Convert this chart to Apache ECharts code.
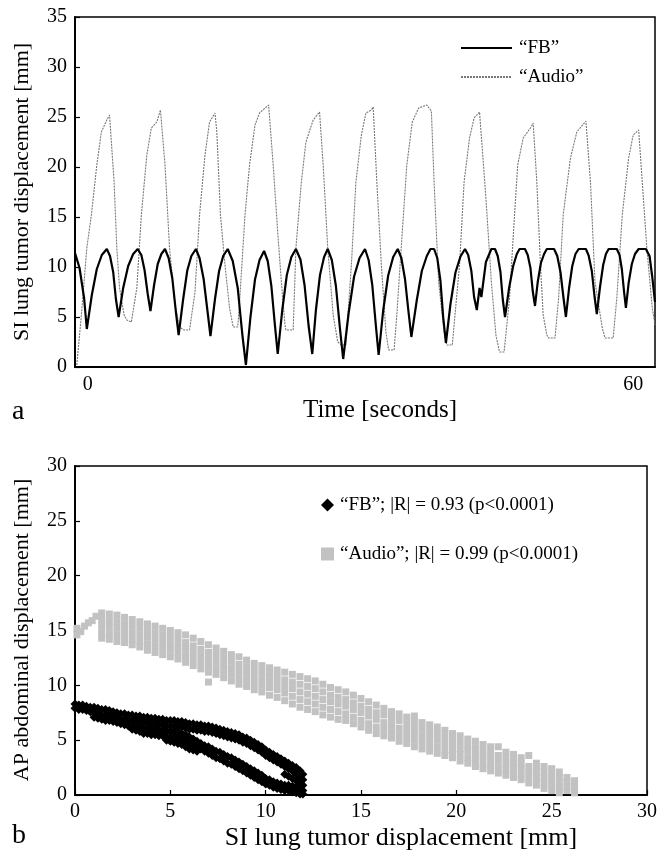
<!DOCTYPE html>
<html><head><meta charset="utf-8">
<script src="https://cdn.jsdelivr.net/npm/echarts@6/dist/echarts.min.js"></script>
<style>html,body{margin:0;padding:0;background:#fff}#c{width:660px;height:850px}</style>
</head><body><div id="c"></div><script>
// ---------- Panel a: time series (time [s], SI displacement [mm]) ----------
const fbSeries = [
 [-1.4,11.4],[-0.9,9.9],[-0.4,6.9],[-0.1,3.8],
 [0.45,7.2],[1.0,9.8],[1.55,11.2],[2.1,11.8],[2.45,11.1],[2.8,9.5],[3.1,6.8],[3.4,5.0],
 [3.9,7.9],[4.45,10.1],[5.0,11.3],[5.5,11.8],[5.9,11.2],[6.25,9.7],[6.6,7.3],[6.9,5.6],
 [7.3,8.2],[7.7,10.3],[8.1,11.3],[8.5,11.8],[8.9,10.9],[9.3,8.9],[9.7,5.5],[10.0,3.2],
 [10.5,6.8],[10.95,9.65],[11.4,11.1],[11.9,11.8],[12.3,10.9],[12.75,8.8],[13.2,5.4],[13.5,3.1],
 [14.0,6.8],[14.45,9.6],[14.9,11.1],[15.4,11.8],[15.95,10.6],[16.5,7.9],[17.0,3.3],[17.4,0.2],
 [17.9,5.0],[18.4,8.75],[18.9,10.7],[19.4,11.6],[19.8,10.6],[20.2,8.1],[20.6,4.1],[20.9,1.3],
 [21.4,5.7],[21.9,9.2],[22.4,11.0],[22.9,11.8],[23.4,10.75],[23.85,8.2],[24.3,4.1],[24.7,1.3],
 [25.1,5.7],[25.55,9.2],[26.0,11.0],[26.4,11.8],[26.85,10.7],[27.3,8.1],[27.75,3.8],[28.1,0.8],
 [28.7,5.4],[29.3,9.05],[29.9,10.9],[30.5,11.8],[30.9,10.7],[31.3,8.2],[31.7,4.1],[32.0,1.2],
 [32.5,5.65],[33.05,9.15],[33.6,11.0],[34.1,11.8],[34.5,10.9],[34.9,8.8],[35.3,5.4],[35.6,3.0],
 [36.2,6.7],[36.75,9.6],[37.3,11.1],[37.7,11.8],[38.1,11.8],[38.45,10.9],[38.8,8.6],[39.1,5.0],[39.4,2.4],
 [39.9,6.3],[40.45,9.45],[41.0,11.05],[41.5,11.8],[41.85,11.2],[42.2,9.6],[42.5,7.0],[42.8,5.7],
 [43.1,7.9],[43.3,7.0],[43.8,10.5],[44.4,11.8],[44.8,11.8],[45.1,11.1],[45.4,9.5],[45.65,6.8],[45.9,5.0],
 [46.35,7.9],[46.8,10.1],[47.2,11.3],[47.5,11.8],[48.1,11.8],[48.4,11.2],[48.7,9.9],[48.95,7.6],[49.2,6.1],
 [49.5,8.5],[49.85,10.4],[50.2,11.3],[50.5,11.8],[51.3,11.8],[51.65,11.1],[52.0,9.5],[52.35,6.8],[52.6,5.0],
 [52.95,7.9],[53.3,10.1],[53.65,11.3],[54.0,11.8],[54.8,11.8],[55.1,11.15],[55.45,9.6],[55.75,7.05],[56.0,5.3],
 [56.35,8.0],[56.7,10.2],[57.0,11.3],[57.3,11.8],[58.2,11.8],[58.5,11.2],[58.75,9.8],[59.0,7.5],[59.2,5.9],
 [59.5,8.4],[59.85,10.3],[60.2,11.3],[60.6,11.8],[61.4,11.8],[61.8,11.1],[62.1,9.0],[62.4,6.5]
];
const audioSeries = [
 [-1.2,0.2],[-0.7,5.2],[-0.1,11.9],[0.4,15.2],[1.0,20.2],[1.5,23.5],[2.1,24.7],[2.4,25.2],
 [2.9,18.5],[3.2,11.9],[3.5,7.9],[4.0,5.2],[4.3,4.7],[4.8,4.5],
 [5.4,7.9],[5.9,15.2],[6.5,21.2],[7.0,23.9],[7.6,24.5],[8.0,25.7],
 [8.5,20.2],[9.0,11.9],[9.6,6.2],[10.1,4.0],[10.6,3.7],[11.2,3.7],
 [11.8,7.5],[12.3,15.2],[12.9,21.2],[13.4,24.5],[14.0,25.4],
 [14.2,23.5],[14.6,15.2],[15.1,10.2],[15.6,5.9],[16.0,4.0],[16.5,4.0],
 [16.7,6.5],[17.3,15.2],[17.8,20.2],[18.4,24.2],[18.9,25.4],[19.9,26.2],
 [20.4,20.2],[20.9,13.5],[21.3,8.5],[21.7,4.2],[21.8,3.7],[22.6,3.7],
 [22.9,11.9],[23.5,18.5],[24.0,22.5],[24.8,24.7],[25.5,25.5],
 [25.9,20.2],[26.4,11.9],[27.0,5.2],[27.5,2.5],[27.9,2.2],[28.4,2.2],
 [29.0,10.2],[29.5,18.5],[30.1,23.2],[30.6,25.4],[31.2,25.7],[31.4,26.0],
 [31.8,18.5],[32.3,10.2],[32.8,3.5],[33.1,1.7],[33.7,1.7],
 [34.0,5.2],[34.6,13.5],[35.1,20.2],[35.7,24.5],[36.4,25.9],[37.3,26.2],[37.8,25.6],
 [38.1,18.5],[38.6,8.5],[39.2,3.5],[39.5,2.2],[40.1,2.2],
 [40.9,10.2],[41.4,18.5],[42.0,22.9],[42.5,24.9],[43.1,25.5],
 [43.8,16.9],[44.4,8.5],[44.9,3.2],[45.3,1.5],[45.8,1.5],
 [46.4,6.9],[46.9,14.5],[47.3,20.2],[47.9,22.9],[48.7,23.9],[49.0,24.4],
 [49.4,18.5],[49.8,10.2],[50.1,5.2],[50.5,3.2],[50.7,2.9],[51.4,2.9],
 [51.8,6.9],[52.3,15.2],[53.1,20.9],[53.8,23.5],[54.8,24.6],
 [55.3,18.5],[55.8,8.5],[56.6,3.9],[56.9,2.9],[57.8,2.9],
 [58.2,6.9],[58.8,15.2],[59.5,20.9],[60.0,23.2],[60.6,23.7],
 [61.0,18.5],[61.5,11.9],[62.1,5.9],[62.4,4.2]
];
const timeTickLabels = [0, 60];

// ---------- Panel b: scatter (SI displacement, AP abdominal displacement) ----------
// columns: [SI value, [AP values read in that column]]
const fbScatterCols = [
 [0.0,[8.3,7.9]],[0.2,[8.2,7.8]],[0.4,[8.2,7.8]],[0.6,[8.1,7.7]],[0.8,[8.0,7.6]],
 [1.0,[8.0,7.5,7.1]],[1.2,[7.9,7.4,7.0]],[1.4,[7.8,7.3,6.9]],[1.6,[7.8,7.3,6.8]],[1.8,[7.7,7.2,6.8]],
 [2.0,[7.6,7.1,6.7]],[2.2,[7.5,7.0,6.6]],[2.4,[7.4,6.9,6.5]],[2.6,[7.4,6.9,6.4]],[2.8,[7.3,6.8,6.3]],
 [3.0,[7.3,6.8,6.3,6.0]],[3.2,[7.2,6.7,6.2,5.9]],[3.4,[7.2,6.7,6.2,5.8]],[3.6,[7.1,6.6,6.1,5.6]],[3.8,[7.1,6.6,6.1,5.6]],
 [4.0,[7.0,6.5,6.0,5.5]],[4.2,[7.0,6.5,6.0,5.5]],[4.4,[6.9,6.4,5.9,5.4]],[4.6,[6.9,6.4,5.9,5.4]],
 [4.8,[6.8,6.3,5.8,5.3,5.0]],[5.0,[6.8,6.3,5.8,5.3,4.9]],[5.2,[6.8,6.3,5.8,5.3,4.8]],[5.4,[6.7,6.2,5.7,5.2,4.7]],
 [5.6,[6.7,6.2,5.6,5.1,4.6]],[5.8,[6.6,6.1,5.5,4.9,4.4]],[6.0,[6.5,6.0,5.3,4.7,4.2]],[6.2,[6.5,6.0,5.1,4.5,4.1]],
 [6.4,[6.4,5.9,4.9,4.4,4.0]],[6.6,[6.4,5.9,4.7,4.2]],[6.8,[6.3,5.8,4.5,4.0]],[7.0,[6.3,5.8,4.4,3.8]],
 [7.2,[6.2,5.7,4.2,3.6]],[7.4,[6.1,5.6,4.0,3.4]],[7.6,[6.0,5.5,3.9,3.3]],[7.8,[5.9,5.4,3.7,3.1]],
 [8.0,[5.8,5.3,3.5,2.9]],[8.2,[5.7,5.2,3.4,2.8]],[8.4,[5.6,5.1,3.2,2.6]],[8.6,[5.5,5.0,3.0,2.4]],
 [8.8,[5.3,4.8,2.8,2.2]],[9.0,[5.2,4.7,2.6,2.0]],[9.2,[5.0,4.5,2.4,1.8]],[9.4,[4.8,4.3,2.2,1.6]],
 [9.6,[4.6,4.1,2.0,1.4]],[9.8,[4.4,3.9,1.8,1.2]],[10.0,[4.1,3.6,1.5,1.0]],[10.2,[3.9,3.4,1.4,0.9]],
 [10.4,[3.7,3.2,1.2,0.7]],[10.6,[3.5,3.0,1.1,0.6]],[10.8,[3.3,2.8,1.0,0.5]],[11.0,[3.1,2.6,1.9,0.9,0.4]],
 [11.2,[2.9,2.4,1.7,0.9,0.4]],[11.4,[2.7,2.2,1.5,0.8,0.3]],[11.6,[2.5,1.9,1.3,0.7,0.2]],
 [11.8,[2.2,1.7,1.1,0.6,0.1]],[11.95,[1.9,1.4,0.9,0.4,0.1]]
];
const audioScatterCols = [
 [0.1,[14.6,15.2]],[0.3,[14.9]],[0.5,[15.4]],[0.7,[15.7]],[0.9,[15.9]],[1.1,[16.3]],
 [1.4,[16.6,16.0,15.4,14.8,14.3]],[1.8,[16.5,15.9,15.3,14.7,14.2]],[2.2,[16.4,15.8,15.2,14.6,14.0]],
 [2.6,[16.2,15.6,15.0,14.4,13.9]],[3.0,[16.0,15.4,14.8,14.2,13.7]],[3.4,[15.8,15.2,14.6,14.0,13.5]],
 [3.8,[15.6,15.0,14.4,13.8,13.2]],[4.2,[15.4,14.8,14.2,13.6,13.0]],[4.6,[15.2,14.6,14.0,13.4,12.8]],
 [5.0,[15.0,14.4,13.8,13.2,12.6]],[5.4,[14.8,14.2,13.6,13.0,12.4]],[5.8,[14.6,13.9,13.3,12.7,12.1]],
 [6.2,[14.3,13.6,13.0,12.4,11.8]],[6.6,[14.0,13.3,12.7,12.1,11.5]],[7.0,[13.7,13.0,12.4,11.8,11.2,10.3]],
 [7.4,[13.4,12.8,12.2,11.6,11.0]],[7.8,[13.1,12.5,11.9,11.3,10.7]],[8.2,[12.8,12.2,11.6,11.0,10.4]],
 [8.6,[12.6,11.9,11.3,10.7,10.1]],[9.0,[12.3,11.7,11.1,10.5,9.9]],[9.4,[12.0,11.4,10.8,10.2,9.6]],
 [9.8,[11.8,11.2,10.6,10.0,9.4]],[10.2,[11.6,11.0,10.4,9.8,9.1]],[10.6,[11.4,10.8,10.2,9.6,8.9]],
 [11.0,[11.2,10.5,9.9,9.3,8.6]],[11.4,[11.0,10.3,9.7,9.0,8.3]],[11.8,[10.8,10.1,9.4,8.7,8.0]],
 [12.2,[10.6,9.9,9.2,8.5,7.8]],[12.6,[10.4,9.7,9.0,8.3,7.6]],[13.0,[10.1,9.4,8.7,8.0,7.3]],
 [13.4,[9.8,9.1,8.5,7.8,7.1]],[13.8,[9.6,8.9,8.3,7.6,6.9]],[14.2,[9.4,8.7,8.1,7.4,6.8]],
 [14.6,[9.1,8.4,7.8,7.1,6.5]],[15.0,[8.8,8.1,7.5,6.8,6.2]],[15.4,[8.5,7.8,7.2,6.5,5.9]],
 [15.8,[8.2,7.5,6.9,6.2,5.6]],[16.2,[7.9,7.3,6.6,6.0,5.4]],[16.6,[7.6,7.0,6.4,5.8,5.2]],
 [17.0,[7.4,6.8,6.1,5.5,4.9]],[17.4,[7.1,6.5,5.9,5.3,4.7]],[17.8,[7.2,6.8,6.2,5.6,5.0,4.4]],
 [18.2,[6.6,6.0,5.4,4.8,4.2]],[18.6,[6.4,5.8,5.2,4.6,4.0]],[19.0,[6.2,5.6,5.0,4.4,3.8]],
 [19.4,[5.9,5.3,4.7,4.1,3.6]],[19.8,[5.6,5.0,4.5,3.9,3.4]],[20.2,[5.4,4.8,4.2,3.7,3.1]],
 [20.6,[5.1,4.5,4.0,3.4,2.9]],[21.0,[4.9,4.3,3.7,3.2,2.6]],[21.4,[4.6,4.0,3.5,2.9,2.4]],
 [21.8,[4.4,3.8,3.3,2.7,2.2]],[22.2,[4.4,3.6,3.1,2.5,2.0]],[22.6,[3.9,3.4,2.8,2.3,1.8]],
 [23.0,[3.7,3.1,2.6,2.1,1.6]],[23.4,[3.4,2.9,2.4,1.9,1.4]],[23.8,[3.6,2.6,2.1,1.6,1.1]],
 [24.2,[2.9,2.4,1.9,1.4,0.9]],[24.6,[2.6,2.1,1.6,1.1,0.6]],[25.0,[2.4,1.9,1.4,0.9,0.4]],
 [25.4,[2.1,1.6,1.1,0.6,0.2]],[25.8,[1.6,1.2,0.8,0.4]],[26.2,[1.3,0.9,0.5,0.2]]
];

const FONT = 'Liberation Serif';
const toPoints = cols => { const out = []; cols.forEach(c => c[1].forEach(y => out.push([c[0], y]))); return out; };

const chart = echarts.init(document.getElementById('c'), null, {renderer: 'canvas'});
const axisCommon = {
  axisLine: {show: true, onZero: false, lineStyle: {color: '#000', width: 2}},
  axisTick: {show: true, inside: true, length: 5, lineStyle: {color: '#000', width: 1.2}},
  splitLine: {show: false},
  axisLabel: {color: '#000', fontFamily: FONT, fontSize: 20}
};
chart.setOption({
  animation: false,
  backgroundColor: '#fff',
  grid: [
    {left: 75, top: 17, width: 580, height: 350, show: true, borderColor: '#000', borderWidth: 1.5},
    {left: 75, top: 466, width: 574, height: 329, show: true, borderColor: '#000', borderWidth: 1.5}
  ],
  xAxis: [
    Object.assign({}, axisCommon, {gridIndex: 0, type: 'value', min: -1.4, max: 62.4,
      axisTick: {show: false},
      axisLabel: Object.assign({}, axisCommon.axisLabel, {customValues: timeTickLabels, margin: 8})}),
    Object.assign({}, axisCommon, {gridIndex: 1, type: 'value', min: 0, max: 30, interval: 5,
      axisLabel: Object.assign({}, axisCommon.axisLabel, {margin: 7})})
  ],
  yAxis: [
    Object.assign({}, axisCommon, {gridIndex: 0, type: 'value', min: 0, max: 35, interval: 5,
      axisLabel: Object.assign({}, axisCommon.axisLabel, {margin: 8})}),
    Object.assign({}, axisCommon, {gridIndex: 1, type: 'value', min: 0, max: 30, interval: 5,
      axisLabel: Object.assign({}, axisCommon.axisLabel, {margin: 8})})
  ],
  legend: [
    {data: ['“FB”', '“Audio”'], orient: 'vertical', left: 455, top: 33, itemWidth: 51, itemHeight: 14, itemGap: 9,
     itemStyle: {opacity: 0},
     textStyle: {fontFamily: FONT, fontSize: 19, color: '#000', lineHeight: 20, padding: [0, 0, 0, 2]}},
    {data: ['“FB”; |R| = 0.93 (p<0.0001)', '“Audio”; |R| = 0.99 (p<0.0001)'], orient: 'vertical', left: 316, top: 490,
     itemWidth: 13, itemHeight: 13, itemGap: 29,
     textStyle: {fontFamily: FONT, fontSize: 19, color: '#000', lineHeight: 20, padding: [0, 0, 0, 1]}}
  ],
  series: [
    {name: '“Audio”', type: 'line', xAxisIndex: 0, yAxisIndex: 0, data: audioSeries, symbol: 'none',
     lineStyle: {color: '#777', width: 1.1, type: [2, 1]}, itemStyle: {color: '#777'}},
    {name: '“FB”', type: 'line', xAxisIndex: 0, yAxisIndex: 0, data: fbSeries, symbol: 'none',
     lineStyle: {color: '#000', width: 2.2}, itemStyle: {color: '#000'}},
    {name: '“Audio”; |R| = 0.99 (p<0.0001)', type: 'scatter', xAxisIndex: 1, yAxisIndex: 1,
     data: toPoints(audioScatterCols), symbol: 'rect', symbolSize: 7, itemStyle: {color: '#c2c2c2', opacity: 1}},
    {name: '“FB”; |R| = 0.93 (p<0.0001)', type: 'scatter', xAxisIndex: 1, yAxisIndex: 1,
     data: toPoints(fbScatterCols), symbol: 'diamond', symbolSize: 9, itemStyle: {color: '#000', opacity: 1}}
  ],
  graphic: [
    {type: 'text', x: 22, y: 192, rotation: Math.PI / 2,
     style: {text: 'SI lung tumor displacement [mm]', font: '22px "Liberation Serif"', fill: '#000', textAlign: 'center', textVerticalAlign: 'middle'}},
    {type: 'text', x: 380, y: 410,
     style: {text: 'Time [seconds]', font: '25px "Liberation Serif"', fill: '#000', textAlign: 'center', textVerticalAlign: 'middle'}},
    {type: 'text', x: 22, y: 630, rotation: Math.PI / 2,
     style: {text: 'AP abdominal displacement [mm]', font: '22px "Liberation Serif"', fill: '#000', textAlign: 'center', textVerticalAlign: 'middle'}},
    {type: 'text', x: 401, y: 838,
     style: {text: 'SI lung tumor displacement [mm]', font: '26px "Liberation Serif"', fill: '#000', textAlign: 'center', textVerticalAlign: 'middle'}},
    {type: 'text', x: 12, y: 412,
     style: {text: 'a', font: '28px "Liberation Serif"', fill: '#000', textAlign: 'left', textVerticalAlign: 'middle'}},
    {type: 'text', x: 12, y: 836,
     style: {text: 'b', font: '28px "Liberation Serif"', fill: '#000', textAlign: 'left', textVerticalAlign: 'middle'}}
  ]
});
</script></body></html>
